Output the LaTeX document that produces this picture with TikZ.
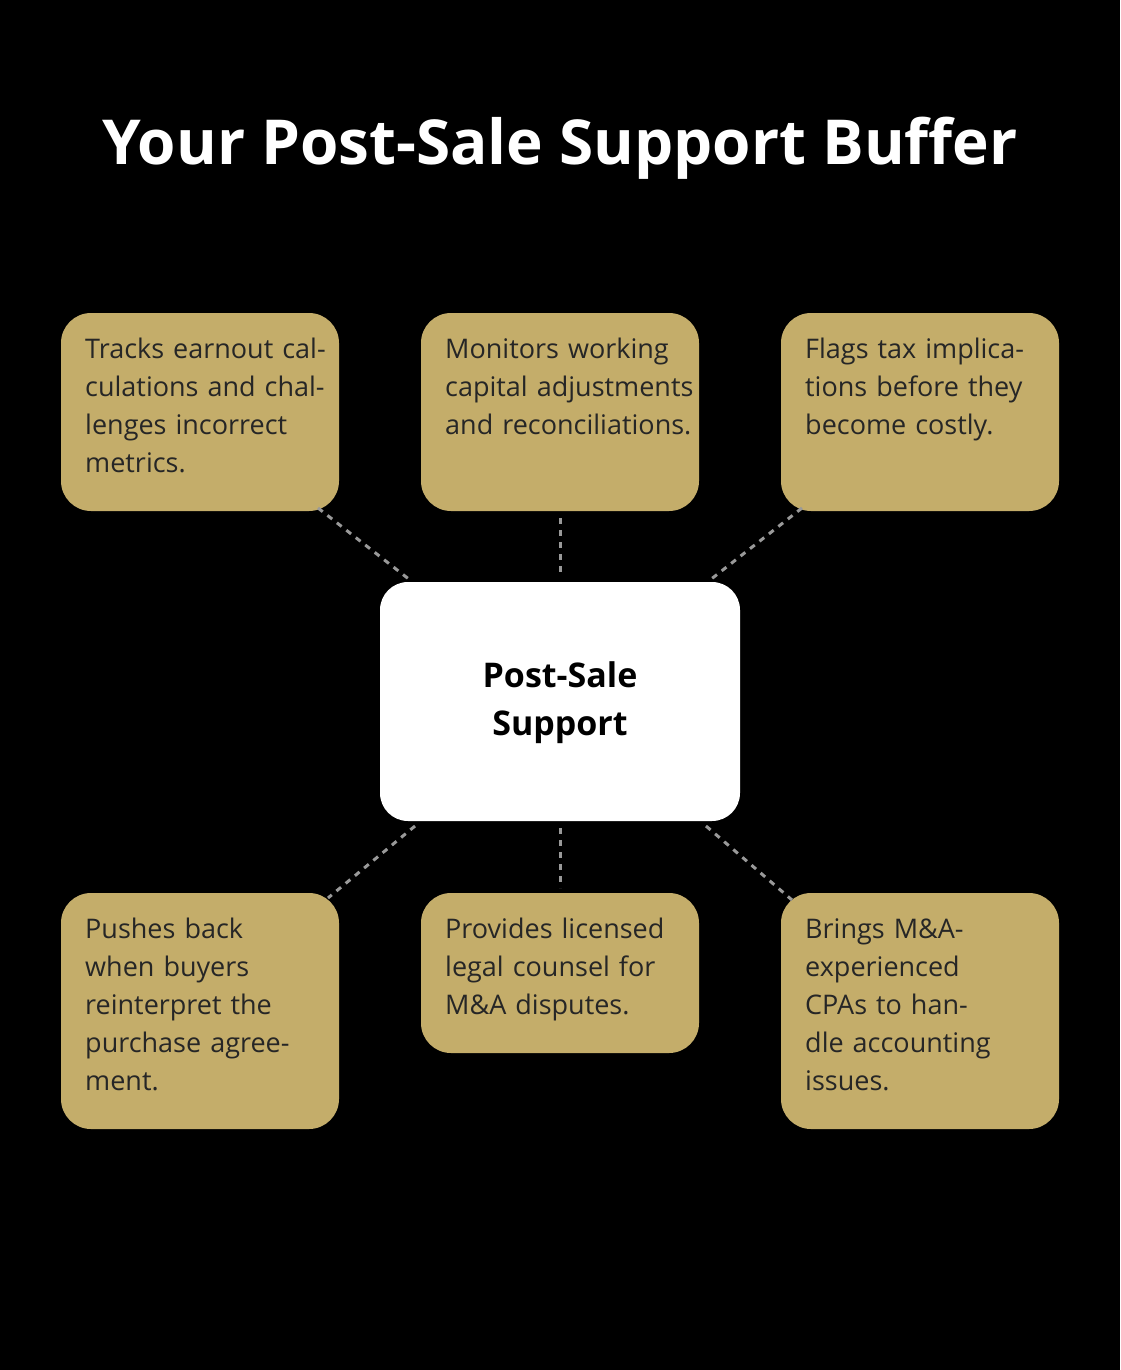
\documentclass[tikz,border=0pt]{standalone}
\usepackage{fontspec}
\setmainfont{Open Sans}
\begin{document}
\begin{tikzpicture}[x=1pt,y=-1pt,
  box/.style={draw=none,fill=gold,rounded corners=30pt},
  txt/.style={anchor=north west,text width=250pt,align=left,inner sep=0pt,text=black!85,font=\fontsize{27}{38}\selectfont},
  conn/.style={draw=gray!80,line width=3pt,dash pattern=on 6pt off 6pt}]
\definecolor{gold}{HTML}{C4AD6A}
\fill[black] (0,0) rectangle (1120,1370);
\useasboundingbox (0,0) rectangle (1120,1370);
\node[text=white,font=\bfseries\fontsize{62}{70}\selectfont] (title) at (560,148) {Your Post-Sale Support Buffer};
% boxes
\path[box] (61,313) rectangle (339,511); \node[txt] (t1) at (85,338) {Tracks earnout calculations and challenges incorrect metrics.};
\path[box] (421,313) rectangle (699,511); \node[txt] (t2) at (445,338) {Monitors working capital adjustments and reconciliations.};
\path[box] (781,313) rectangle (1059,511); \node[txt] (t3) at (805,338) {Flags tax implications before they become costly.};
\path[box] (61,893) rectangle (339,1129); \node[txt,text width=215pt] (b1) at (85,918) {Pushes back when buyers reinterpret the purchase agreement.};
\path[box] (421,893) rectangle (699,1053); \node[txt] (b2) at (445,918) {Provides licensed legal counsel for M\&A disputes.};
\path[box] (781,893) rectangle (1059,1129); \node[txt,text width=215pt] (b3) at (805,918) {Brings M\&A-experienced CPAs to handle accounting issues.};
\path[fill=white,rounded corners=28pt] (380,582) rectangle (740,821);
\node[font=\bfseries\fontsize{34}{48}\selectfont,align=center] (c) at (560,703) {Post-Sale\\Support};
% connectors
\coordinate (a1) at (318,508); \coordinate (a2) at (410,580);
\coordinate (a3) at (560,518); \coordinate (a4) at (560,577);
\coordinate (a5) at (802,508); \coordinate (a6) at (710,580);
\coordinate (d1) at (415,826); \coordinate (d2) at (328,898);
\coordinate (d3) at (560,828); \coordinate (d4) at (560,888);
\coordinate (d5) at (706,826); \coordinate (d6) at (792,900);
\draw[conn] (a1)--(a2); \draw[conn] (a3)--(a4); \draw[conn] (a5)--(a6);
\draw[conn] (d1)--(d2); \draw[conn] (d3)--(d4); \draw[conn] (d5)--(d6);
\end{tikzpicture}
\end{document}
